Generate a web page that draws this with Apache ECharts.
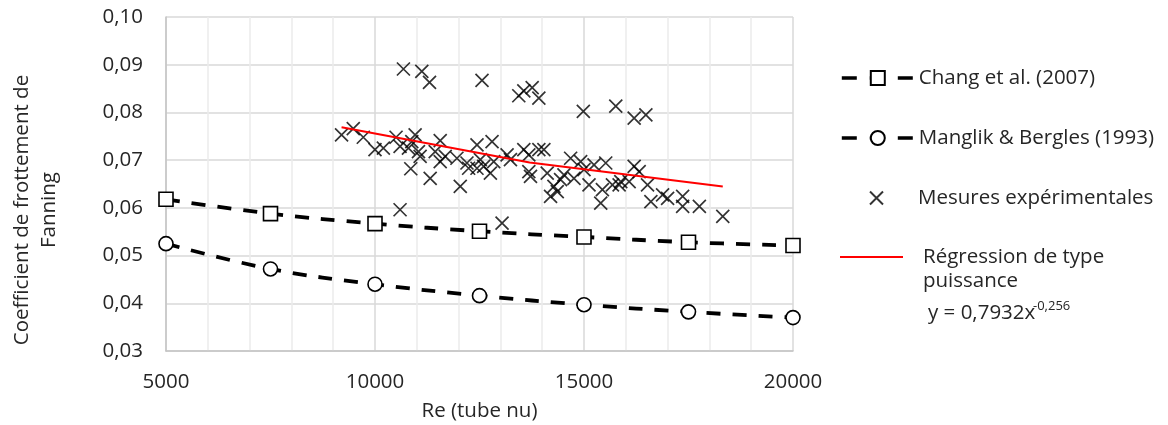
<!DOCTYPE html>
<html>
<head>
<meta charset="utf-8">
<script src="https://cdn.jsdelivr.net/npm/echarts@6/dist/echarts.min.js"></script>
<style>html,body{margin:0;padding:0;background:#fff;}#c{width:1168px;height:425px;}</style>
</head>
<body>
<div id="c"></div>
<script>
// Reynolds numbers for the correlation curves
const reValues = [5000, 7500, 10000, 12500, 15000, 17500, 20000];
const changValues = [0.0618, 0.0588, 0.0567, 0.0551, 0.0539, 0.0528, 0.0521];
const manglikValues = [0.0525, 0.0472, 0.0440, 0.0416, 0.0397, 0.0382, 0.0370];
// Experimental measurements
const mesuresRe = [9200, 9480, 9720, 10000, 10200, 10504, 10600, 10800, 10960, 10880, 11040, 11080, 10856, 11320, 11440, 11560, 11560, 11680, 12040, 10600, 11960, 12200, 12240, 12440, 12520, 12440, 12800, 12760, 12600, 12840, 13040, 13160, 13240, 13560, 13680, 13720, 13680, 13920, 14200, 14280, 14360,
  10680, 11120, 11304, 12560, 13440, 13560, 13760, 13920, 14984, 15760, 16200, 16480,
  14040, 14120, 14440, 14520, 14680, 14760, 14920, 15000, 15120, 15240, 15400, 15440, 15520, 15680, 15840, 15880, 16080, 16200, 16320, 16520, 16600, 16880, 17000, 17360, 17360, 17760, 18320];
const mesuresF = [0.0753, 0.0766, 0.0748, 0.0722, 0.0725, 0.0748, 0.0729, 0.0725, 0.0753, 0.0739, 0.0718, 0.0708, 0.0682, 0.0662, 0.0718, 0.0741, 0.0697, 0.0708, 0.0645, 0.0596, 0.0704, 0.0694, 0.0683, 0.0732, 0.0701, 0.0683, 0.0739, 0.0673, 0.0687, 0.0697, 0.0568, 0.0711, 0.0701, 0.0722, 0.0711, 0.0666, 0.0676, 0.0722, 0.0624, 0.0645, 0.0634,
  0.0891, 0.0886, 0.0863, 0.0867, 0.0835, 0.0845, 0.0852, 0.0830, 0.0802, 0.0813, 0.0788, 0.0795,
  0.0722, 0.0673, 0.0659, 0.0669, 0.0704, 0.0662, 0.0697, 0.0680, 0.0648, 0.0690, 0.0610, 0.0638, 0.0694, 0.0648, 0.0648, 0.0655, 0.0655, 0.0687, 0.0676, 0.0648, 0.0613, 0.0627, 0.0620, 0.0624, 0.0603, 0.0603, 0.0582];
// Power regression line
const regRe = [9200, 13700, 18320];
const regF = [0.0769, 0.0695, 0.0645];
// Texts
const seriesNames = ['Chang et al. (2007)', 'Manglik & Bergles (1993)', 'Mesures expérimentales', 'Régression de type puissance'];
const xTitle = 'Re (tube nu)';
const yTitle = 'Coefficient de frottement de\nFanning';
const equationMain = 'y = 0,7932x';
const equationExp = '-0,256';

const FONT = 'Open Sans';
const TXT = '#262626';
const FS = 20.5;

const zip = (a, b) => a.map((v, i) => [v, b[i]]);

const chart = echarts.init(document.getElementById('c'), null, {renderer: 'canvas'});

function legendAt(name, top, extra) {
  return Object.assign({
    data: [name], orient: 'vertical', left: 840, top: top, padding: 0,
    itemWidth: 72, itemHeight: 17.5, selectedMode: false,
    textStyle: {fontFamily: FONT, fontSize: FS, color: TXT, lineHeight: 24}
  }, extra || {});
}

chart.setOption({
  animation: false,
  backgroundColor: '#fff',
  textStyle: {fontFamily: FONT},
  grid: {left: 166, right: 375, top: 17, bottom: 74, containLabel: false},
  xAxis: {
    type: 'value', min: 5000, max: 20000, interval: 5000,
    axisLine: {show: true, lineStyle: {color: '#c4c4c4', width: 1.5}},
    axisTick: {show: false},
    minorTick: {show: false, splitNumber: 5},
    minorSplitLine: {show: true, lineStyle: {color: '#ececec', width: 1.5}},
    splitLine: {show: true, lineStyle: {color: '#d9d9d9', width: 1.5}},
    axisLabel: {fontFamily: FONT, fontSize: FS, color: TXT, margin: 21,
      formatter: v => String(Math.round(v))}
  },
  yAxis: {
    type: 'value', min: 0.03, max: 0.10, interval: 0.01,
    axisLine: {show: true, lineStyle: {color: '#c4c4c4', width: 1.5}},
    axisTick: {show: false},
    splitLine: {show: true, lineStyle: {color: '#d9d9d9', width: 1.5}},
    axisLabel: {fontFamily: FONT, fontSize: FS, color: TXT, margin: 23,
      formatter: v => v.toFixed(2).replace('.', ',')}
  },
  legend: [
    legendAt(seriesNames[0], 66, {lineStyle: {type: [15, 13], width: 3.6, color: '#000'}}),
    legendAt(seriesNames[1], 126, {lineStyle: {type: [15, 13], width: 3.6, color: '#000'}}),
    legendAt(seriesNames[2], 186, {left: 869, itemWidth: 13, itemHeight: 13,
      textStyle: {fontFamily: FONT, fontSize: FS, color: TXT, lineHeight: 24, padding: [0, 0, 0, 30]}}),
    legendAt(seriesNames[3], 245, {icon: 'rect', itemWidth: 63, itemHeight: 2,
      formatter: () => 'Régression de type',
      textStyle: {fontFamily: FONT, fontSize: FS, color: TXT, lineHeight: 24, padding: [0, 0, 0, 15]}})
  ],
  graphic: [
    {type: 'text', left: 923, top: 271, style: {text: 'puissance', font: FS + 'px "' + FONT + '"', fill: TXT}},
    {type: 'text', left: 928, top: 303, style: {text: equationMain, font: FS + 'px "' + FONT + '"', fill: TXT}},
    {type: 'text', left: 1033, top: 300, style: {text: equationExp, font: '13px "' + FONT + '"', fill: TXT}},
    {type: 'text', x: 479.5, y: 411, style: {text: xTitle, font: FS + 'px "' + FONT + '"', fill: TXT, align: 'center', verticalAlign: 'middle'}},
    {type: 'text', x: 36, y: 210, rotation: Math.PI / 2,
      style: {text: yTitle, font: FS + 'px "' + FONT + '"', fill: TXT, align: 'center', verticalAlign: 'middle', lineHeight: 27}}
  ],
  series: [
    {
      name: seriesNames[0], type: 'line', data: zip(reValues, changValues), smooth: 0.4,
      symbol: 'rect', symbolSize: 14,
      itemStyle: {color: '#ffffff', borderColor: '#000000', borderWidth: 1.6},
      lineStyle: {color: '#000000', width: 3.8, type: [14, 12]}, z: 2
    },
    {
      name: seriesNames[1], type: 'line', data: zip(reValues, manglikValues), smooth: 0.4,
      symbol: 'circle', symbolSize: 14,
      itemStyle: {color: '#ffffff', borderColor: '#000000', borderWidth: 1.6},
      lineStyle: {color: '#000000', width: 3.8, type: [14, 12]}, z: 2
    },
    {
      name: seriesNames[2], type: 'scatter', data: zip(mesuresRe, mesuresF),
      symbol: 'path://M0,0L10,10M10,0L0,10', symbolSize: 13, symbolKeepAspect: true,
      itemStyle: {color: 'rgba(0,0,0,0)', borderColor: '#000000', borderWidth: 1.7}, z: 3
    },
    {
      name: seriesNames[3], type: 'line', data: zip(regRe, regF), symbol: 'none',
      itemStyle: {color: '#ff0000'},
      lineStyle: {color: '#ff0000', width: 2}, z: 4
    }
  ]
});
</script>
</body>
</html>
